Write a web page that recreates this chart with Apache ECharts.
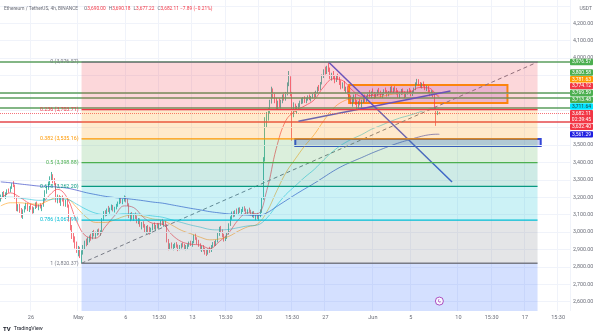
<!DOCTYPE html>
<html>
<head>
<meta charset="utf-8">
<script src="https://cdn.jsdelivr.net/npm/echarts@6/dist/echarts.min.js"></script>
<style>
html,body{margin:0;padding:0;background:#fff;}
#chart{width:600px;height:335px;}
</style>
</head>
<body>
<div id="chart"></div>
<script>
// ETH/USDT 4h candles. Slot 0 = Apr 22 20:00, one slot per 4h, 360 slots on the time axis.
const slotCount = 360;
const timeTicks = [[19,'26'],[49,'May'],[79,'6'],[100,'15:30'],[121,'13'],[142,'15:30'],[163,'20'],[184,'15:30'],[205,'27'],[235,'Jun'],[259,'5'],[289,'10'],[310,'15:30'],[331,'17'],[352,'15:30']];
const priceLabels = [2600,2700,2800,2900,3000,3100,3200,3300,3400,3500,4000,4100,4200];
const priceGrid = [2600,2700,2800,2900,3000,3100,3200,3300,3400,3500,3600,3700,3800,3900,4000,4100,4200,4300];

// [open, high, low, close]
const ohlc = [
[3190,3215,3175,3205],[3205,3230,3195,3222],[3222,3235,3200,3210],[3210,3228,3190,3218],[3218,3245,3212,3238],[3238,3250,3225,3232],
[3232,3262,3228,3255],[3255,3280,3248,3270],[3270,3292,3258,3265],[3265,3272,3190,3198],[3198,3205,3120,3135],[3135,3160,3118,3150],
[3150,3162,3110,3120],[3120,3138,3082,3098],[3098,3130,3075,3125],[3125,3150,3112,3140],[3140,3168,3130,3155],[3155,3165,3120,3128],
[3128,3150,3115,3145],[3145,3160,3128,3135],[3135,3148,3105,3118],[3118,3142,3108,3138],[3138,3170,3132,3160],[3160,3175,3138,3142],
[3142,3158,3125,3150],[3150,3165,3135,3140],[3140,3155,3120,3148],[3148,3195,3145,3188],[3188,3240,3182,3232],[3232,3262,3220,3250],
[3250,3290,3242,3282],[3282,3320,3270,3308],[3308,3345,3295,3318],[3318,3332,3280,3292],[3292,3310,3268,3275],[3275,3282,3170,3185],
[3185,3215,3165,3200],[3200,3212,3168,3178],[3178,3205,3150,3192],[3192,3210,3175,3182],[3182,3198,3148,3160],[3160,3185,3145,3178],
[3178,3190,3140,3150],[3150,3158,3060,3072],[3072,3085,3010,3025],[3025,3040,2960,2982],[2982,3000,2940,2955],[2955,2975,2905,2920],
[2920,2945,2880,2895],[2895,2920,2860,2908],[2908,2915,2850,2870],[2870,2895,2820.37,2880],[2880,2925,2870,2915],[2915,2950,2898,2940],
[2940,2962,2918,2930],[2930,2970,2925,2958],[2958,2980,2940,2972],[2972,2990,2950,2965],[2965,3005,2958,2995],[2995,3012,2975,2985],
[2985,3002,2962,2992],[2992,3015,2980,3008],[3008,3020,2985,2990],[2990,3010,2978,3005],[3005,3080,3000,3072],[3072,3120,3065,3108],
[3108,3125,3090,3098],[3098,3135,3092,3128],[3128,3150,3115,3122],[3122,3140,3105,3135],[3135,3158,3125,3148],[3148,3155,3118,3125],
[3125,3145,3112,3140],[3140,3162,3130,3152],[3152,3175,3145,3170],[3170,3195,3160,3185],[3185,3200,3165,3172],[3172,3190,3160,3182],
[3182,3210,3175,3195],[3195,3205,3170,3178],[3178,3190,3150,3160],[3160,3165,3080,3090],[3090,3110,3062,3102],[3102,3115,3070,3080],
[3080,3105,3065,3098],[3098,3112,3075,3085],[3085,3095,3050,3062],[3062,3080,3045,3070],[3070,3078,3030,3040],[3040,3058,3015,3050],
[3050,3062,3025,3030],[3030,3045,2995,3008],[3008,3035,2990,3025],[3025,3040,3000,3012],[3012,3030,2985,2998],[2998,3025,2990,3018],
[3018,3048,3010,3040],[3040,3055,3015,3022],[3022,3040,3005,3035],[3035,3052,3020,3028],[3028,3050,3018,3045],[3045,3068,3035,3058],
[3058,3075,3040,3048],[3048,3062,3030,3055],[3055,3065,3035,3040],[3040,3045,2940,2952],[2952,2960,2895,2910],[2910,2935,2898,2925],
[2925,2940,2905,2912],[2912,2930,2895,2920],[2920,2938,2908,2930],[2930,2942,2910,2915],[2915,2928,2890,2905],[2905,2925,2895,2918],
[2918,2935,2905,2928],[2928,2940,2912,2920],[2920,2932,2898,2908],[2908,2925,2895,2915],[2915,2930,2900,2925],[2925,2945,2915,2935],
[2935,2950,2920,2928],[2928,2948,2915,2940],[2940,2985,2935,2975],[2975,2990,2955,2962],[2962,2970,2930,2940],[2940,2955,2915,2922],
[2922,2935,2895,2905],[2905,2920,2885,2912],[2912,2925,2888,2895],[2895,2910,2870,2885],[2885,2900,2862,2878],[2878,2905,2870,2898],
[2898,2915,2880,2890],[2890,2925,2885,2918],[2918,2942,2910,2935],[2935,2948,2918,2928],[2928,2955,2920,2948],[2948,2995,2940,2985],
[2985,3030,2978,3018],[3018,3035,2995,3005],[3005,3015,2970,2978],[2978,2990,2945,2955],[2955,2975,2948,2968],[2968,2995,2960,2990],
[2990,3050,2985,3042],[3042,3090,3035,3080],[3080,3118,3070,3105],[3105,3120,3085,3095],[3095,3125,3088,3115],[3115,3135,3100,3108],
[3108,3140,3100,3130],[3130,3142,3110,3118],[3118,3132,3100,3125],[3125,3145,3115,3138],[3138,3148,3118,3122],[3122,3135,3105,3115],
[3115,3130,3098,3125],[3125,3140,3112,3120],[3120,3128,3095,3100],[3100,3118,3085,3110],[3110,3120,3080,3088],[3088,3105,3068,3095],
[3095,3110,3075,3082],[3082,3098,3065,3090],[3090,3130,3085,3120],[3120,3200,3110,3190],[3190,3430,3185,3415],[3415,3660,3405,3645],
[3645,3690,3600,3665],[3665,3712,3640,3695],[3695,3760,3680,3745],[3745,3835,3738,3805],[3805,3825,3770,3785],[3785,3800,3740,3752],
[3752,3770,3705,3720],[3720,3755,3700,3742],[3742,3768,3715,3730],[3730,3760,3710,3752],[3752,3790,3740,3778],[3778,3800,3755,3765],
[3765,3805,3755,3795],[3795,3860,3785,3850],[3850,3925,3838,3880],[3880,3895,3780,3795],[3795,3805,3525,3700],[3700,3745,3660,3725],
[3725,3738,3690,3705],[3705,3725,3680,3715],[3715,3740,3700,3728],[3728,3755,3715,3748],[3748,3770,3735,3755],[3755,3775,3738,3762],
[3762,3780,3742,3750],[3750,3772,3740,3768],[3768,3785,3755,3772],[3772,3790,3758,3765],[3765,3782,3750,3778],[3778,3798,3768,3790],
[3790,3805,3772,3782],[3782,3812,3775,3805],[3805,3835,3795,3828],[3828,3845,3810,3820],[3820,3862,3815,3855],[3855,3905,3848,3898],
[3898,3935,3885,3925],[3925,3950,3905,3915],[3915,3955,3908,3945],[3945,3976.57,3920,3932],[3932,3945,3880,3892],[3892,3915,3870,3905],
[3905,3925,3880,3885],[3885,3900,3855,3870],[3870,3898,3862,3890],[3890,3910,3875,3880],[3880,3892,3845,3858],[3858,3872,3820,3832],
[3832,3860,3825,3850],[3850,3868,3810,3818],[3818,3835,3795,3825],[3825,3838,3790,3800],[3800,3812,3760,3772],[3772,3785,3735,3748],
[3748,3775,3720,3762],[3762,3790,3745,3780],[3780,3795,3730,3740],[3740,3758,3705,3718],[3718,3752,3708,3745],[3745,3768,3728,3735],
[3735,3760,3712,3752],[3752,3785,3742,3775],[3775,3790,3745,3758],[3758,3782,3748,3770],[3770,3800,3760,3792],[3792,3815,3775,3780],
[3780,3808,3768,3800],[3800,3825,3785,3790],[3790,3805,3765,3775],[3775,3800,3770,3795],[3795,3818,3782,3810],[3810,3828,3790,3798],
[3798,3812,3772,3780],[3780,3802,3770,3795],[3795,3820,3785,3812],[3812,3830,3795,3800],[3800,3815,3778,3788],[3788,3810,3780,3805],
[3805,3835,3798,3825],[3825,3840,3805,3812],[3812,3830,3795,3820],[3820,3838,3808,3815],[3815,3828,3790,3798],[3798,3815,3772,3785],
[3785,3805,3768,3800],[3800,3822,3788,3810],[3810,3825,3790,3795],[3795,3808,3770,3782],[3782,3802,3775,3798],[3798,3820,3790,3812],
[3812,3828,3798,3805],[3805,3818,3780,3790],[3790,3812,3782,3808],[3808,3830,3800,3822],[3822,3860,3815,3855],[3855,3880,3845,3870],
[3870,3878,3840,3848],[3848,3862,3830,3838],[3838,3858,3825,3852],[3852,3865,3835,3840],[3840,3850,3815,3825],[3825,3842,3810,3832],
[3832,3840,3795,3802],[3802,3818,3780,3790],[3790,3815,3785,3808],[3808,3812,3775,3785],[3785,3792,3700,3712],[3712,3720,3610,3688],
[3688,3705,3672,3690],[3690.00,3690.18,3677.22,3682.11]
];

// moving averages, sampled per day (slot index, value)
const emaSlots = [0,6,12,18,24,30,36,42,48,54,60,66,72,78,84,90,96,102,108,114,120,126,132,138,144,150,156,162,168,174,180,186,192,198,204,210,216,222,228,234,240,246,252,258,264,270,276,277];
const ema20  = [3190,3225,3200,3165,3150,3205,3245,3195,3060,2975,2965,3030,3095,3150,3140,3085,3050,3045,2985,2945,2930,2925,2905,2945,2995,3070,3110,3105,3240,3480,3640,3695,3725,3760,3835,3880,3870,3815,3780,3785,3790,3805,3805,3805,3830,3828,3780,3774.12];
const ema50  = [3150,3168,3168,3162,3160,3180,3200,3192,3140,3085,3055,3055,3070,3090,3100,3090,3075,3068,3040,3010,2990,2970,2955,2960,2975,3005,3030,3045,3115,3230,3340,3420,3495,3560,3640,3710,3750,3765,3765,3772,3778,3790,3795,3795,3800,3803,3785,3781.63];
const ema100 = [3200,3200,3195,3188,3182,3185,3190,3187,3160,3130,3108,3100,3100,3105,3105,3100,3092,3085,3070,3055,3040,3028,3015,3012,3015,3025,3035,3040,3080,3150,3215,3265,3315,3360,3415,3465,3505,3535,3560,3590,3612,3635,3655,3670,3688,3705,3712,3711.64];
const ema200 = [3288,3283,3276,3270,3264,3262,3258,3252,3240,3226,3215,3205,3198,3193,3187,3180,3172,3166,3156,3146,3136,3127,3117,3110,3104,3100,3097,3094,3110,3145,3180,3215,3248,3280,3315,3350,3380,3405,3428,3452,3474,3495,3514,3530,3546,3558,3562,3561.29];

// Fibonacci retracement
const fibLevels = ['0','0.236','0.382','0.5','0.618','0.786','1'];
const fibPrices = [3976.57,3703.71,3535.16,3398.88,3262.20,3067.99,2820.37];
const fibExtPrice = 2105.72;
const fibStart = 51, fibEnd = 339;

// horizontal levels
const greenLevels = [3976.57,3800.58,3769.59,3713.48];
const redLevel = 3632.40;

// boxes: [slotFrom, priceTop, slotTo, priceBottom]
const rangeBox = [220,3845,320,3741];
const demandBox = [186,3535,341,3494];
// trend lines: [slotA, priceA, slotB, priceB]
const fallingLine = [207,3976.57,285,3287];
const risingLine = [188,3636,284,3810];

const eventMarks = [[277,2603]];
const countdown = '02:39:45';

const fmt = v => v.toLocaleString('en-US',{minimumFractionDigits:2,maximumFractionDigits:2});
const slotNames = Array.from({length: slotCount}, (_, i) => String(i));
const tickMap = new Map(timeTicks);
const last = ohlc[ohlc.length - 1];
const prev = ohlc[ohlc.length - 2];
const lastPrice = last[3];

const pair = (xs, ys) => xs.map((x, i) => [x, ys[i]]);
const FONT = 'Roboto, "Liberation Sans", sans-serif';

const chart = echarts.init(document.getElementById('chart'), null, {renderer: 'canvas'});

const option = {
  animation: false,
  textStyle: {fontFamily: FONT},
  grid: {left: 0, right: 30, top: 0, bottom: 24, outerBoundsMode: 'none', containLabel: false},
  xAxis: {
    type: 'category', data: slotNames, boundaryGap: true,
    axisLine: {show: false}, axisTick: {show: false},
    axisLabel: {interval: (i) => tickMap.has(i), formatter: (v, i) => tickMap.get(i) || '', color: '#6a6d78', fontSize: 5.5, margin: 4, hideOverlap: false},
    splitLine: {show: true, interval: (i) => tickMap.has(i), lineStyle: {color: '#f0f3fa', width: 1}}
  },
  yAxis: {
    type: 'value', position: 'right', min: 2546, max: 4333.3, scale: true,
    axisLine: {show: false}, axisTick: {show: false, customValues: priceLabels},
    axisLabel: {customValues: priceLabels, formatter: v => fmt(v), color: '#6a6d78', fontSize: 5.3, margin: 3, align: 'left'},
    splitLine: {show: false}
  },
  series: [
    { // price grid
      type: 'line', data: [], z: 1, silent: true,
      markLine: {silent: true, symbol: ['none','none'], label: {show: false},
        lineStyle: {color: '#f0f3fa', width: 1, type: 'solid'},
        data: priceGrid.map(v => ({yAxis: v}))}
    },
    {
      type: 'candlestick', z: 3, barWidth: 1.2,
      data: ohlc.map(r => [r[0], r[3], r[2], r[1]]),
      itemStyle: {color: '#089981', color0: '#f23645', borderColor: '#089981', borderColor0: '#f23645', borderWidth: 0.7}
    },
    {type: 'line', z: 4, data: pair(emaSlots, ema20), showSymbol: false, smooth: 0.4, lineStyle: {color: '#f23645', width: 1, opacity: 0.65}, silent: true},
    {type: 'line', z: 4, data: pair(emaSlots, ema50), showSymbol: false, smooth: 0.4, lineStyle: {color: '#ff9800', width: 1, opacity: 0.55}, silent: true},
    {type: 'line', z: 4, data: pair(emaSlots, ema100), showSymbol: false, smooth: 0.4, lineStyle: {color: '#00bcd4', width: 1, opacity: 0.5}, silent: true},
    {type: 'line', z: 4, data: pair(emaSlots, ema200), showSymbol: false, smooth: 0.4, lineStyle: {color: '#3f4fc8', width: 1, opacity: 0.7}, silent: true},
    { // horizontal levels
      type: 'line', data: [], z: 5, silent: true,
      markLine: {silent: true, symbol: ['none','none'], label: {show: false},
        data: greenLevels.map(v => ({yAxis: v, lineStyle: {color: '#5a9e5c', width: 1.5, type: 'solid'}}))
          .concat([{yAxis: redLevel, lineStyle: {color: '#e5484d', width: 1.5, type: 'solid'}}])}
    },
    { // fibonacci zones, lines and labels
      type: 'custom', z: 6, silent: true,
      data: fibPrices.map((p, i) => [i]),
      renderItem: (params, api) => {
        const i = params.dataIndex;
        const cs = params.coordSys;
        const top = fibPrices[i];
        const bot = i + 1 < fibPrices.length ? fibPrices[i + 1] : fibExtPrice;
        const a = api.coord([fibStart, top]);
        const b = api.coord([fibEnd, bot]);
        const yb = Math.min(b[1], cs.y + cs.height);
        const fills = ['rgba(242,54,69,0.2)','rgba(255,152,0,0.2)','rgba(76,175,80,0.2)','rgba(8,153,129,0.2)','rgba(0,188,212,0.2)','rgba(120,123,134,0.2)','rgba(41,98,255,0.2)'];
        const cols = ['#787b86','#f23645','#ff9800','#4caf50','#089981','#00bcd4','#787b86'];
        return {type: 'group', children: [
          {type: 'rect', shape: {x: a[0], y: a[1], width: b[0] - a[0], height: yb - a[1]}, style: {fill: fills[i]}},
          {type: 'line', shape: {x1: a[0], y1: a[1], x2: b[0], y2: a[1]}, style: {stroke: cols[i], lineWidth: 1.3}},
          {type: 'text', x: a[0] - 3, y: a[1], style: {text: fibLevels[i] + ' (' + fmt(top) + ')', fill: cols[i], fontSize: 5.3, fontFamily: FONT, align: 'right', verticalAlign: 'middle'}}
        ]};
      }
    },
    { // drawings: boxes and trend lines
      type: 'line', data: [], z: 7, silent: true,
      markArea: {silent: true, label: {show: false}, data: [
        [{coord: [rangeBox[0], rangeBox[1]], itemStyle: {color: 'rgba(156,39,176,0.2)', borderColor: '#ff9800', borderWidth: 2}}, {coord: [rangeBox[2], rangeBox[3]]}],
        [{coord: [demandBox[0], demandBox[1]], itemStyle: {color: 'rgba(63,81,220,0.28)', borderColor: '#3346d6', borderWidth: 2}}, {coord: [demandBox[2], demandBox[3]]}]
      ]},
      markLine: {silent: true, symbol: ['none','none'], label: {show: false}, data: [
        [{coord: [fibStart, fibPrices[6]], lineStyle: {color: '#787b86', width: 1, type: [4, 3]}}, {coord: [fibEnd, fibPrices[0]]}],
        [{coord: [fallingLine[0], fallingLine[1]], lineStyle: {color: '#4a5ad8', width: 1.5, type: 'solid'}}, {coord: [fallingLine[2], fallingLine[3]]}],
        [{coord: [risingLine[0], risingLine[1]], lineStyle: {color: '#4a5ad8', width: 1.5, type: 'solid'}}, {coord: [risingLine[2], risingLine[3]]}]
      ]}
    },
    { // last price line
      type: 'line', data: [], z: 8, silent: true,
      markLine: {silent: true, symbol: ['none','none'], label: {show: false},
        data: [{yAxis: lastPrice, lineStyle: {color: 'rgba(242,54,69,0.7)', width: 1, type: 'dotted'}}]}
    },
    {
      type: 'scatter', z: 9, data: eventMarks, symbol: 'circle', symbolSize: 8, silent: true,
      itemStyle: {color: '#fff', borderColor: '#9c27b0', borderWidth: 1},
      label: {show: true, position: 'inside', formatter: 'ϟ', color: '#9c27b0', fontSize: 6, fontWeight: 'bold'}
    }
  ]
};
chart.setOption(option);

// right-edge price tags, stacked around the pinned last-price tag
const tags = [
  {v: greenLevels[0], c: '#4caf50', t: '#fff'},
  {v: greenLevels[1], c: '#4caf50', t: '#fff'},
  {v: ema50[ema50.length - 1], c: '#ff9800', t: '#fff'},
  {v: ema20[ema20.length - 1], c: '#f23645', t: '#fff'},
  {v: greenLevels[2], c: '#4caf50', t: '#fff'},
  {v: greenLevels[3], c: '#4caf50', t: '#fff'},
  {v: ema100[ema100.length - 1], c: '#00e5ff', t: '#24414a'},
  {v: lastPrice, c: '#f23645', t: '#fff', price: true},
  {v: redLevel, c: '#f23645', t: '#fff'},
  {v: ema200[ema200.length - 1], c: '#1e1ee0', t: '#fff'}
];
const H = 6.8;
tags.forEach(t => { t.y = chart.convertToPixel({yAxisIndex: 0}, t.v); });
const pIdx = tags.findIndex(t => t.price);
for (let k = pIdx - 1; k >= 0; k--) tags[k].y = Math.min(tags[k].y, tags[k + 1].y - H);
for (let k = pIdx + 1; k < tags.length; k++) {
  const gap = tags[k - 1].price ? 2 * H : H;
  tags[k].y = Math.max(tags[k].y, tags[k - 1].y + gap);
}
const X0 = 570, W = 23;
const graphics = [];
tags.forEach(t => {
  const h = t.price ? 2 * H - 0.4 : H - 0.4;
  graphics.push({type: 'rect', z: 100, shape: {x: X0, y: t.y - H / 2 + 0.2, width: W, height: h, r: 1}, style: {fill: t.c}});
  graphics.push({type: 'text', z: 101, x: X0 + W / 2, y: t.y, style: {text: fmt(t.v), fill: t.t, fontSize: 5, fontFamily: FONT, align: 'center', verticalAlign: 'middle'}});
  if (t.price) {
    graphics.push({type: 'text', z: 101, x: X0 + W / 2, y: t.y + H, style: {text: countdown, fill: t.t, fontSize: 5, fontFamily: FONT, align: 'center', verticalAlign: 'middle'}});
  }
});
const chg = last[3] - prev[3];
const pct = chg / prev[3] * 100;
const sign = v => (v < 0 ? '\u2212' : '+') + Math.abs(v).toFixed(2);
graphics.push({
  type: 'text', z: 102, left: 4, top: 3,
  style: {
    text: '{g|Ethereum / TetherUS, 4h, BINANCE}  {g|O}{r|' + fmt(last[0]) + '} {g|H}{r|' + fmt(last[1]) + '} {g|L}{r|' + fmt(last[2]) + '} {g|C}{r|' + fmt(last[3]) + ' ' + sign(chg) + ' (' + sign(pct) + '%)}',
    fontFamily: FONT,
    rich: {g: {fill: '#6a6d78', fontSize: 4.8, fontFamily: FONT}, r: {fill: '#f23645', fontSize: 4.8, fontFamily: FONT}}
  }
});
graphics.push({type: 'text', z: 102, right: 8, top: 6, style: {text: 'USDT', fill: '#6a6d78', fontSize: 5, fontFamily: FONT}});
graphics.push({
  type: 'text', z: 102, left: 3, top: 323,
  style: {text: '{l|TV} {n|TradingView}', fontFamily: FONT,
    rich: {l: {fill: '#131722', fontSize: 6, fontWeight: 'bold', fontFamily: FONT}, n: {fill: '#131722', fontSize: 5.3, fontFamily: FONT}}}
});
chart.setOption({graphic: graphics});
</script>
</body>
</html>
